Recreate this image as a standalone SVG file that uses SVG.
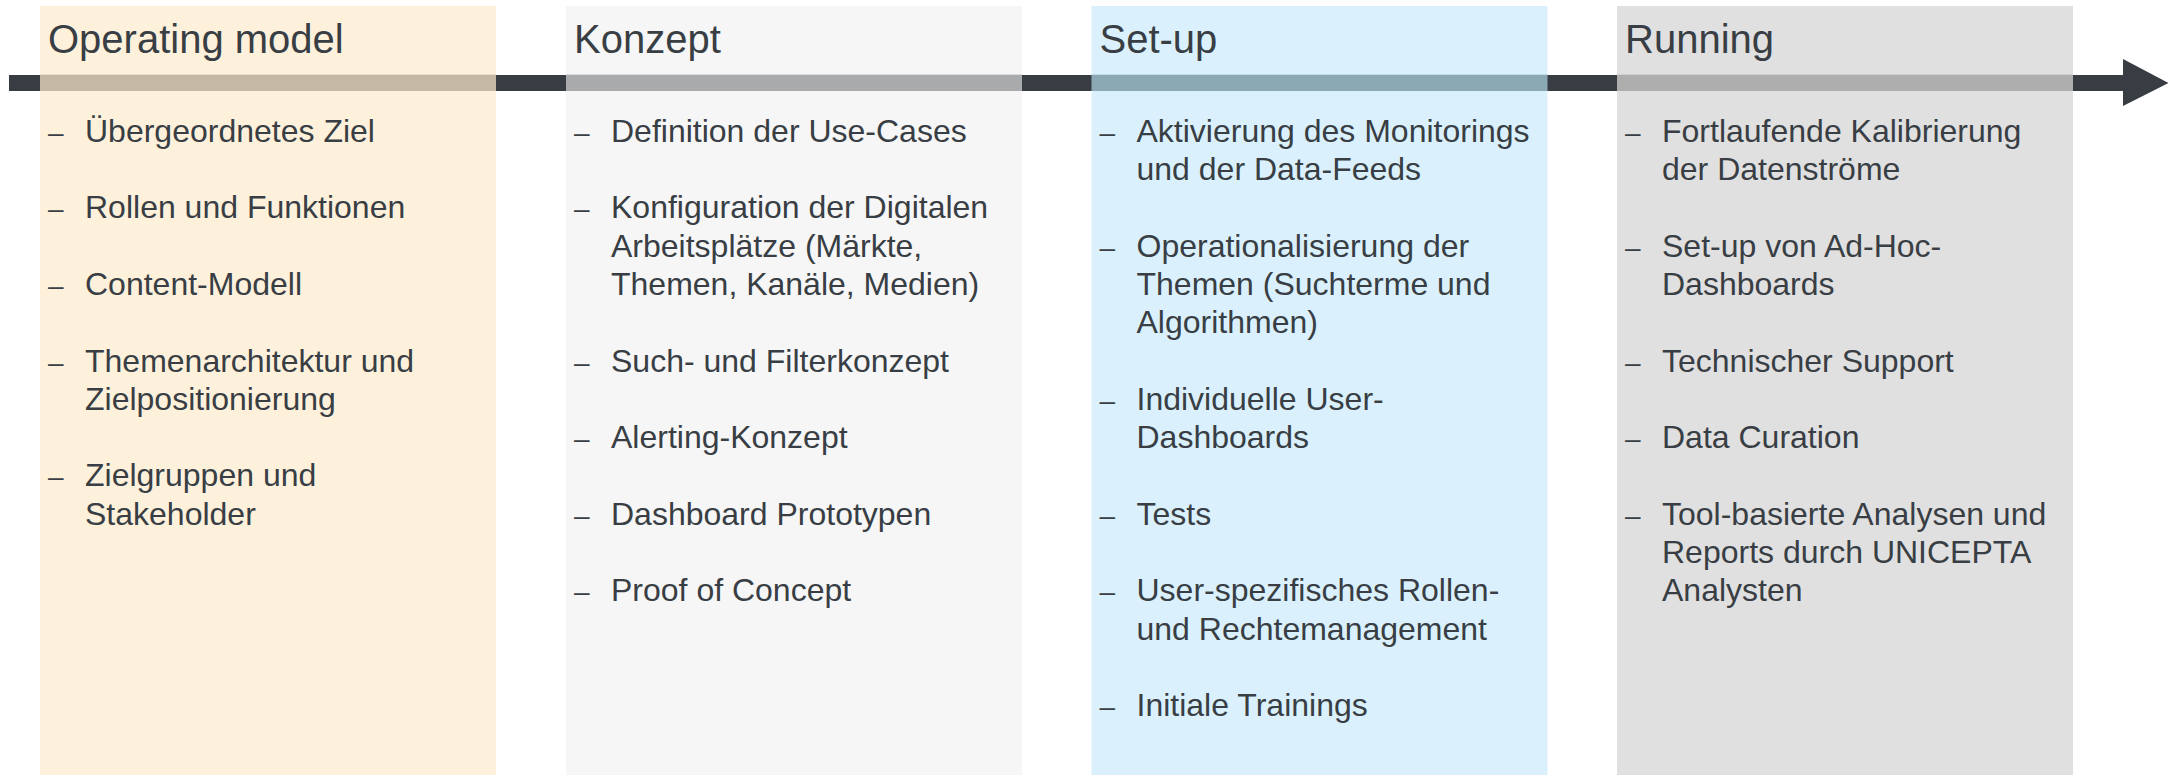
<svg xmlns="http://www.w3.org/2000/svg" width="2169" height="775" viewBox="0 0 2169 775">
<style>
.title{font-family:"Liberation Sans",Arial,sans-serif;font-size:40px;fill:#383E44}
.item{font-family:"Liberation Sans",Arial,sans-serif;font-size:32px;fill:#383E44}
.dash{font-family:"Liberation Sans",Arial,sans-serif;font-size:28px;fill:#383E44}
.dark{fill:#373D42}
</style>
<rect x="0" y="0" width="2169" height="775" fill="#FFFFFF"/>
<g id="col-operating-model">
<rect x="40" y="6" width="456" height="769" fill="#FEF1DC"/>
</g>
<g id="col-konzept">
<rect x="566" y="6" width="456" height="769" fill="#F6F6F6"/>
</g>
<g id="col-setup">
<rect x="1091.5" y="6" width="456" height="769" fill="#DAF1FD"/>
</g>
<g id="col-running">
<rect x="1617" y="6" width="456" height="769" fill="#E0E0E0"/>
</g>
<g id="connectors">
<rect class="dark" x="9" y="75" width="2116" height="16"/>
<polygon class="dark" points="2123,59 2168.5,83 2123,106"/>
<rect x="40" y="75" width="456" height="16" fill="#C4BAA4"/>
<rect x="566" y="75" width="456" height="16" fill="#A8AAAC"/>
<rect x="1091.5" y="75" width="456" height="16" fill="#8BA9B4"/>
<rect x="1617" y="75" width="456" height="16" fill="#AEAEAF"/>
<rect x="40" y="74" width="456" height="1" fill="#E6DDCB"/>
<rect x="566" y="74" width="456" height="1" fill="#DCDCDC"/>
<rect x="1091.5" y="74" width="456" height="1" fill="#C3DCE6"/>
<rect x="1617" y="74" width="456" height="1" fill="#CFCFCF"/>
</g>
<g id="text-operating-model">
<text class="title" x="48" y="53">Operating model</text>
<text class="dash" x="48" y="141.7">–</text><text class="item" x="85" y="141.7">Übergeordnetes Ziel</text>
<text class="dash" x="48" y="218.3">–</text><text class="item" x="85" y="218.3">Rollen und Funktionen</text>
<text class="dash" x="48" y="295">–</text><text class="item" x="85" y="295">Content-Modell</text>
<text class="dash" x="48" y="371.5">–</text><text class="item" x="85" y="371.5">Themenarchitektur und</text>
<text class="item" x="85" y="409.8">Zielpositionierung</text>
<text class="dash" x="48" y="486.4">–</text><text class="item" x="85" y="486.4">Zielgruppen und</text>
<text class="item" x="85" y="524.7">Stakeholder</text>
</g>
<g id="text-konzept">
<text class="title" x="574" y="53">Konzept</text>
<text class="dash" x="574" y="141.7">–</text><text class="item" x="611" y="141.7">Definition der Use-Cases</text>
<text class="dash" x="574" y="218.3">–</text><text class="item" x="611" y="218.3">Konfiguration der Digitalen</text>
<text class="item" x="611" y="256.6">Arbeitsplätze (Märkte,</text>
<text class="item" x="611" y="295">Themen, Kanäle, Medien)</text>
<text class="dash" x="574" y="371.5">–</text><text class="item" x="611" y="371.5">Such- und Filterkonzept</text>
<text class="dash" x="574" y="448.1">–</text><text class="item" x="611" y="448.1">Alerting-Konzept</text>
<text class="dash" x="574" y="524.7">–</text><text class="item" x="611" y="524.7">Dashboard Prototypen</text>
<text class="dash" x="574" y="601.3">–</text><text class="item" x="611" y="601.3">Proof of Concept</text>
</g>
<g id="text-setup">
<text class="title" x="1099.5" y="53">Set-up</text>
<text class="dash" x="1099.5" y="141.7">–</text><text class="item" x="1136.5" y="141.7">Aktivierung des Monitorings</text>
<text class="item" x="1136.5" y="180">und der Data-Feeds</text>
<text class="dash" x="1099.5" y="256.6">–</text><text class="item" x="1136.5" y="256.6">Operationalisierung der</text>
<text class="item" x="1136.5" y="295">Themen (Suchterme und</text>
<text class="item" x="1136.5" y="333.2">Algorithmen)</text>
<text class="dash" x="1099.5" y="409.8">–</text><text class="item" x="1136.5" y="409.8">Individuelle User-</text>
<text class="item" x="1136.5" y="448.1">Dashboards</text>
<text class="dash" x="1099.5" y="524.7">–</text><text class="item" x="1136.5" y="524.7">Tests</text>
<text class="dash" x="1099.5" y="601.3">–</text><text class="item" x="1136.5" y="601.3">User-spezifisches Rollen-</text>
<text class="item" x="1136.5" y="639.6">und Rechtemanagement</text>
<text class="dash" x="1099.5" y="716.2">–</text><text class="item" x="1136.5" y="716.2">Initiale Trainings</text>
</g>
<g id="text-running">
<text class="title" x="1625" y="53">Running</text>
<text class="dash" x="1625" y="141.7">–</text><text class="item" x="1662" y="141.7">Fortlaufende Kalibrierung</text>
<text class="item" x="1662" y="180">der Datenströme</text>
<text class="dash" x="1625" y="256.6">–</text><text class="item" x="1662" y="256.6">Set-up von Ad-Hoc-</text>
<text class="item" x="1662" y="295">Dashboards</text>
<text class="dash" x="1625" y="371.5">–</text><text class="item" x="1662" y="371.5">Technischer Support</text>
<text class="dash" x="1625" y="448.1">–</text><text class="item" x="1662" y="448.1">Data Curation</text>
<text class="dash" x="1625" y="524.7">–</text><text class="item" x="1662" y="524.7">Tool-basierte Analysen und</text>
<text class="item" x="1662" y="563">Reports durch UNICEPTA</text>
<text class="item" x="1662" y="601.3">Analysten</text>
</g>
</svg>
